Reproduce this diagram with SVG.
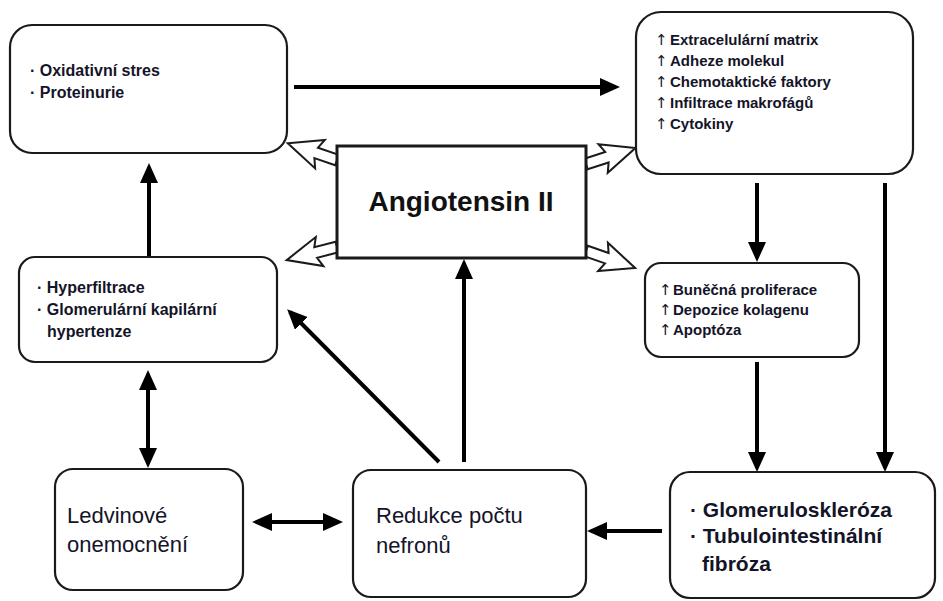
<svg xmlns="http://www.w3.org/2000/svg" width="943" height="601" viewBox="0 0 943 601">
<style>
.box{fill:#fff;stroke:#1a1a1a;stroke-width:2.2}
.ang{fill:#fff;stroke:#1a1a1a;stroke-width:3}
.t{font-family:"Liberation Sans",Arial,sans-serif;font-weight:bold;fill:#141428}
.r{font-family:"Liberation Sans",Arial,sans-serif;font-weight:normal;fill:#141428}
.up{font-family:"DejaVu Sans","Liberation Sans",sans-serif;font-weight:normal;fill:#141428}
.c{stroke:#000;stroke-width:4;fill:none}
.h{fill:#fff;stroke:#1a1a1a;stroke-width:2;stroke-linejoin:miter}
</style>
<defs>
<marker id="ah" markerUnits="userSpaceOnUse" markerWidth="20" markerHeight="18" refX="16" refY="9" orient="auto-start-reverse" viewBox="0 0 20 18">
<path d="M0,0 L20,9 L0,18 z" fill="#000"/>
</marker>
<polygon id="hollow" points="0,-5.5 22,-5.5 18,-15 52,0 18,15 22,5.5 0,5.5"/>
</defs>
<g id="connectors">
<line class="c" x1="294" y1="87" x2="616" y2="87" marker-end="url(#ah)"/>
<line class="c" x1="149" y1="257" x2="149" y2="167" marker-end="url(#ah)"/>
<line class="c" x1="148" y1="374" x2="148" y2="464" marker-start="url(#ah)" marker-end="url(#ah)"/>
<line class="c" x1="256" y1="522" x2="339" y2="522" marker-start="url(#ah)" marker-end="url(#ah)"/>
<line class="c" x1="464" y1="462" x2="464" y2="263" marker-end="url(#ah)"/>
<line class="c" x1="439" y1="462" x2="290" y2="312" marker-end="url(#ah)"/>
<line class="c" x1="757" y1="183" x2="757" y2="258" marker-end="url(#ah)"/>
<line class="c" x1="757" y1="362" x2="757" y2="468" marker-end="url(#ah)"/>
<line class="c" x1="885" y1="183" x2="885" y2="468" marker-end="url(#ah)"/>
<line class="c" x1="662" y1="531" x2="591" y2="531" marker-end="url(#ah)"/>
<use href="#hollow" class="h" transform="translate(337,160) rotate(-161.2)"/>
<use href="#hollow" class="h" transform="translate(586,164) rotate(-18)"/>
<use href="#hollow" class="h" transform="translate(337,247) rotate(165.4)"/>
<use href="#hollow" class="h" transform="translate(586,251) rotate(19.1)"/>
</g>
<g id="node-stres">
<rect class="box" x="10" y="25" width="277" height="128" rx="22"/>
<text class="t" font-size="16" x="30" y="76">· Oxidativní stres</text>
<text class="t" font-size="16" x="30" y="98">· Proteinurie</text>
</g>
<g id="node-matrix">
<rect class="box" x="636" y="12" width="277" height="162" rx="25"/>
<g class="up" font-size="15">
<text x="655" y="45">↑</text><text x="655" y="66">↑</text><text x="655" y="87">↑</text><text x="655" y="108">↑</text><text x="655" y="129">↑</text>
</g>
<g class="t" font-size="15">
<text x="670" y="45">Extracelulární matrix</text>
<text x="670" y="66">Adheze molekul</text>
<text x="670" y="87">Chemotaktické faktory</text>
<text x="670" y="108">Infiltrace makrofágů</text>
<text x="670" y="129">Cytokiny</text>
</g>
</g>
<g id="node-angiotensin">
<rect class="ang" x="337" y="146" width="249" height="112"/>
<text font-family="'Liberation Sans',Arial,sans-serif" font-weight="bold" font-size="28" fill="#111" x="461" y="211" text-anchor="middle">Angiotensin II</text>
</g>
<g id="node-hyper">
<rect class="box" x="19" y="257" width="258" height="105" rx="16"/>
<text class="t" font-size="16" x="37" y="293">· Hyperfiltrace</text>
<text class="t" font-size="16" x="37" y="315">· Glomerulární kapilární</text>
<text class="t" font-size="16" x="47" y="337">hypertenze</text>
</g>
<g id="node-prolif">
<rect class="box" x="645" y="263" width="214" height="94" rx="16"/>
<g class="up" font-size="15">
<text x="659" y="295">↑</text><text x="659" y="315">↑</text><text x="659" y="335">↑</text>
</g>
<g class="t" font-size="15">
<text x="673" y="295">Buněčná proliferace</text>
<text x="673" y="315">Depozice kolagenu</text>
<text x="673" y="335">Apoptóza</text>
</g>
</g>
<g id="node-ledvinove">
<rect class="box" x="55" y="469" width="188" height="121" rx="18"/>
<text class="r" font-size="22" x="67" y="523">Ledvinové</text>
<text class="r" font-size="22" x="67" y="552">onemocnění</text>
</g>
<g id="node-redukce">
<rect class="box" x="353" y="470" width="233" height="127" rx="18"/>
<text class="r" font-size="22" x="376" y="523">Redukce počtu</text>
<text class="r" font-size="22" x="376" y="553">nefronů</text>
</g>
<g id="node-glomerulo">
<rect class="box" x="670" y="472" width="265" height="126" rx="20"/>
<text class="t" font-size="21" x="690" y="517">· Glomeruloskleróza</text>
<text class="t" font-size="21" x="690" y="543">· Tubulointestinální</text>
<text class="t" font-size="21" x="702" y="571">fibróza</text>
</g>
</svg>
